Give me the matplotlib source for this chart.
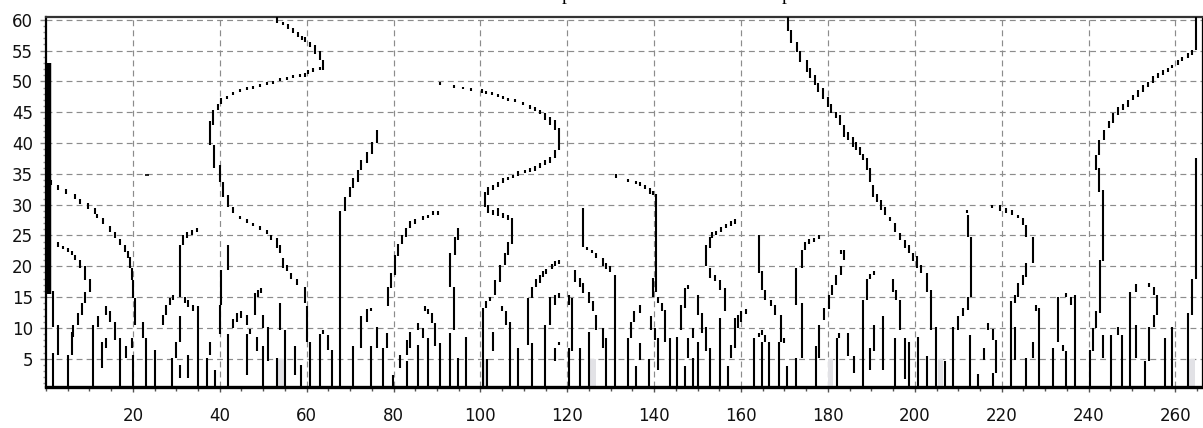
import matplotlib
matplotlib.use("Agg")
import matplotlib.pyplot as plt
from matplotlib.ticker import MultipleLocator

# ---------------- data: maxima runs (x, scale_low, scale_high) ----------------
left_edge = [(0.6, 15.5, 53.0)]

ridge_a = [(1.2, 33.2, 34.0), (2.8, 32.4, 33.2), (4.7, 31.8, 32.6), (6.7, 30.9, 31.8),
           (7.8, 30.1, 31.0), (9.7, 29.3, 30.2), (11.2, 28.5, 29.4), (11.8, 27.8, 28.5),
           (13.2, 26.8, 27.8), (14.7, 25.5, 26.5), (15.9, 24.6, 25.6), (17.0, 23.5, 24.5),
           (18.2, 22.4, 23.4), (18.9, 21.4, 22.5), (19.3, 19.7, 21.5), (19.7, 17.8, 19.7),
           (20.1, 14.8, 17.8), (20.5, 10.5, 14.8)]

ridge_b = [(2.8, 23.2, 23.9), (4.0, 22.8, 23.3), (5.1, 22.3, 22.9), (5.9, 21.8, 22.5),
           (6.7, 21.1, 21.9), (7.8, 19.7, 21.0), (9.0, 17.8, 20.0), (10.1, 15.9, 18.0),
           (9.0, 14.0, 15.9), (8.2, 12.1, 14.0), (7.4, 10.5, 12.4), (6.3, 8.6, 10.5),
           (5.9, 5.6, 9.4), (5.1, 0.5, 5.6)]

ridge_s = [(53.1, 59.4, 60.5), (54.6, 59.1, 59.7), (55.7, 58.5, 59.3), (56.9, 57.8, 58.6),
           (58.1, 57.2, 58.0), (59.0, 56.8, 57.4), (59.6, 56.4, 57.2), (60.7, 55.6, 56.4),
           (61.9, 54.5, 55.9), (63.0, 53.5, 55.0), (63.8, 51.8, 53.5), (63.0, 51.8, 52.4),
           (61.5, 51.5, 52.1), (60.4, 51.2, 51.8), (59.6, 50.7, 51.3), (58.4, 50.7, 51.2),
           (56.9, 50.5, 51.0), (55.4, 50.2, 50.7), (53.8, 50.0, 50.5), (52.3, 49.6, 50.1),
           (50.8, 49.4, 49.9), (49.2, 49.1, 49.6), (47.7, 48.7, 49.2), (46.2, 48.6, 49.1),
           (44.6, 48.3, 48.8), (43.1, 47.8, 48.3), (41.6, 47.2, 47.7), (40.4, 46.4, 47.3),
           (39.7, 45.4, 46.4), (38.5, 42.9, 45.4), (37.7, 39.7, 43.5), (38.7, 35.9, 39.7),
           (40.0, 33.7, 36.4), (40.8, 31.3, 33.7), (41.9, 29.7, 31.6), (43.1, 28.6, 29.7),
           (44.6, 27.6, 28.2), (46.2, 27.0, 27.6), (47.7, 26.5, 27.0), (49.2, 25.9, 26.5),
           (50.8, 25.3, 25.9), (51.9, 24.3, 25.1), (53.1, 22.9, 24.6), (53.8, 22.1, 23.5),
           (54.6, 19.7, 21.3), (55.4, 19.2, 20.2), (56.5, 18.0, 18.9), (57.7, 17.0, 18.0),
           (59.6, 14.0, 16.7), (60.0, 7.8, 13.5), (60.7, 0.5, 7.8)]

ridge_68 = [(67.6, 0.5, 28.9), (68.8, 28.9, 31.3), (69.9, 31.3, 32.9), (70.7, 32.7, 34.3),
            (71.9, 33.7, 35.6), (72.6, 35.6, 37.2), (73.8, 36.7, 38.6), (75.0, 38.3, 40.2),
            (76.1, 40.0, 42.1)]

ridge_c = [(90.7, 49.4, 49.9), (93.9, 49.0, 49.4), (96.0, 48.7, 49.1), (97.9, 48.5, 48.9),
           (100.3, 48.2, 48.7), (101.4, 48.0, 48.5), (102.6, 47.8, 48.3), (104.1, 47.5, 48.0),
           (105.2, 47.2, 47.7), (106.4, 46.8, 47.3), (108.0, 46.6, 47.1), (109.9, 46.1, 46.6),
           (111.4, 45.6, 46.2), (112.5, 45.2, 45.8), (113.7, 44.7, 45.3), (114.9, 43.7, 44.8),
           (116.0, 42.9, 44.3), (117.2, 42.1, 43.7), (118.0, 38.9, 42.4), (117.2, 37.5, 38.9),
           (116.0, 36.7, 37.8), (114.9, 36.4, 37.3), (113.7, 35.9, 36.7), (112.5, 35.5, 36.3),
           (111.4, 35.3, 35.9), (110.2, 35.1, 35.6), (108.7, 34.6, 35.4), (107.5, 34.3, 34.8),
           (106.4, 34.0, 34.5), (105.2, 33.5, 34.3), (104.1, 32.9, 33.7), (102.9, 32.4, 33.2),
           (101.8, 31.6, 32.9), (101.0, 29.7, 32.1), (101.8, 28.6, 29.9), (102.9, 28.4, 29.2),
           (104.1, 28.1, 29.4), (105.2, 27.8, 28.6), (106.4, 27.5, 28.3), (107.2, 23.7, 27.8),
           (106.4, 21.9, 24.0), (105.6, 20.2, 22.1), (104.5, 17.5, 20.2), (103.3, 15.4, 17.8),
           (102.2, 14.3, 15.1), (101.4, 13.2, 14.3), (100.6, 0.5, 13.2)]

ridge_124 = [(123.7, 23.2, 29.4), (124.5, 22.6, 23.2), (125.6, 22.1, 22.7), (126.7, 21.3, 22.1),
             (128.3, 20.0, 21.3), (129.0, 19.6, 20.5), (129.8, 19.0, 20.0), (130.9, 0.5, 18.6)]

ridge_140 = [(131.3, 34.3, 34.9), (133.9, 33.7, 34.2), (135.8, 33.4, 33.9), (136.7, 33.1, 33.6),
             (137.8, 32.6, 33.2), (139.0, 31.8, 32.7), (139.8, 31.5, 32.3), (140.5, 15.9, 31.8),
             (139.8, 15.1, 18.1), (140.9, 14.0, 15.1), (141.7, 12.7, 14.0), (142.5, 7.8, 12.9),
             (143.6, 0.5, 8.3)]

ridge_diag = [(170.9, 58.1, 60.5), (171.6, 56.2, 58.3), (172.8, 54.8, 56.4), (173.5, 53.2, 55.0),
              (175.1, 51.6, 53.5), (175.8, 50.5, 52.1), (177.0, 49.4, 51.0), (177.7, 48.3, 49.7),
              (178.9, 47.2, 48.9), (180.0, 45.9, 47.5), (180.8, 44.8, 46.4), (181.9, 44.0, 45.1),
              (182.7, 42.9, 44.5), (183.8, 41.0, 42.9), (184.6, 40.5, 41.8), (185.8, 39.4, 41.0),
              (186.5, 38.9, 40.2), (187.3, 38.1, 39.4), (188.1, 37.3, 38.3), (188.9, 35.6, 37.5),
              (189.6, 33.7, 35.9), (190.4, 31.3, 33.2), (191.2, 30.5, 31.8), (192.3, 29.1, 30.8),
              (193.1, 28.3, 29.7), (194.2, 27.3, 28.0), (195.4, 25.6, 27.0), (196.5, 24.3, 25.4),
              (197.7, 22.9, 24.3), (198.7, 22.1, 23.5), (199.6, 20.8, 22.1), (200.4, 19.7, 21.6),
              (201.5, 18.9, 20.2), (202.7, 15.9, 18.9), (203.8, 9.7, 16.2), (204.9, 0.5, 10.2)]

ridge_arch = [(212.0, 28.6, 29.1), (217.7, 29.4, 29.9), (219.6, 29.0, 30.0), (221.1, 28.7, 29.5),
              (222.3, 28.3, 29.1), (223.8, 27.8, 28.3), (224.9, 26.7, 27.8), (225.7, 24.8, 26.7),
              (227.2, 20.5, 24.8), (225.7, 18.3, 20.5), (224.9, 17.0, 18.6), (223.8, 15.1, 17.3),
              (223.0, 14.0, 15.4), (222.2, 0.5, 14.3),
              (212.3, 24.8, 28.3), (213.0, 15.1, 24.8), (212.3, 12.9, 15.1), (211.1, 11.9, 13.2),
              (210.0, 9.7, 11.9), (208.8, 0.5, 10.2)]

ridge_right = [(264.8, 55.1, 60.5), (263.9, 54.3, 55.1), (262.8, 53.8, 54.6), (261.6, 53.3, 54.0),
               (260.5, 52.7, 53.5), (259.3, 52.1, 52.7), (258.2, 51.6, 52.2), (257.1, 51.0, 51.8),
               (255.9, 50.5, 51.3), (254.8, 49.7, 50.8), (253.6, 49.1, 49.9), (252.5, 48.3, 49.4),
               (251.3, 47.5, 48.6), (250.2, 47.0, 47.8), (249.0, 45.9, 47.0), (247.9, 45.4, 46.4),
               (246.7, 44.5, 45.9), (245.6, 43.2, 44.8), (244.8, 42.4, 43.5), (243.6, 40.5, 42.1),
               (242.5, 38.1, 40.5), (241.7, 35.6, 38.1), (242.5, 32.1, 35.9), (243.4, 20.8, 32.4),
               (242.6, 12.4, 21.0), (241.8, 10.0, 12.7), (241.1, 6.2, 10.0), (240.3, 0.5, 6.5)]

ridge_edge = [(264.8, 18.0, 37.5), (263.9, 12.1, 18.0), (262.8, 0.5, 12.4)]

bottom_0_60 = [(1.7, 10.2, 16.0), (1.7, 0.5, 5.9), (2.8, 5.6, 10.5), (10.9, 0.5, 10.5),
               (12.0, 10.2, 11.9), (13.8, 12.1, 13.5), (14.7, 11.0, 12.7), (15.9, 8.0, 11.0),
               (12.8, 3.5, 7.8), (13.8, 6.7, 8.3), (17.0, 0.5, 8.3), (18.5, 5.1, 7.0),
               (19.7, 6.7, 8.3), (20.1, 0.5, 5.6), (22.4, 8.3, 11.0), (23.1, 0.5, 8.3),
               (25.0, 0.5, 6.4), (27.0, 10.5, 12.1), (27.7, 12.1, 13.8), (28.5, 13.8, 14.8),
               (29.3, 14.5, 15.3), (30.8, 15.1, 23.5), (31.6, 23.5, 25.1), (32.4, 24.6, 25.6),
               (33.5, 25.0, 25.9), (34.7, 25.6, 26.2), (31.9, 14.0, 15.1), (32.7, 13.4, 14.6),
               (33.8, 12.7, 13.8), (35.0, 0.5, 13.5), (30.8, 7.8, 11.9), (30.0, 5.1, 7.8),
               (28.9, 0.5, 5.1), (30.8, 1.9, 4.0), (32.7, 1.9, 5.6), (37.0, 0.5, 5.1),
               (37.7, 5.6, 7.8), (38.9, 0.5, 3.2), (40.0, 9.0, 13.8), (40.4, 13.8, 19.4),
               (41.9, 19.4, 23.5), (41.9, 0.5, 9.0), (43.1, 10.0, 11.5), (43.9, 11.0, 12.4),
               (45.0, 11.6, 12.7), (46.2, 10.5, 12.1), (46.2, 2.4, 9.0), (47.0, 9.0, 9.8),
               (48.1, 12.1, 15.6), (48.9, 15.1, 16.2), (49.6, 15.6, 16.5), (48.5, 6.2, 8.6),
               (50.0, 10.0, 12.1), (50.0, 0.5, 7.0), (51.1, 4.6, 10.2), (53.1, 0.5, 5.1),
               (53.8, 9.7, 14.0), (55.0, 0.5, 9.7), (57.3, 2.4, 7.0)]

bottom_60_130 = [(58.8, 0.5, 4.0), (63.0, 0.5, 9.0), (63.8, 9.0, 9.6), (65.0, 6.5, 8.9),
                 (65.8, 0.5, 6.5), (70.7, 0.5, 7.0), (72.6, 6.7, 11.9), (73.8, 11.0, 13.0),
                 (74.9, 12.7, 13.3), (74.9, 0.5, 7.0), (76.1, 6.7, 10.2), (77.6, 0.5, 6.7),
                 (78.5, 6.7, 9.2), (78.8, 13.5, 16.7), (79.5, 16.5, 18.9), (79.8, 0.5, 2.4),
                 (80.3, 18.6, 21.9), (81.0, 21.6, 23.7), (81.5, 3.5, 5.6), (81.9, 23.7, 25.1),
                 (82.8, 24.8, 26.2), (83.0, 5.6, 8.0), (83.0, 0.5, 4.6), (83.8, 26.2, 27.3),
                 (84.9, 26.8, 27.6), (86.8, 27.5, 28.1), (88.0, 27.8, 28.4), (89.2, 28.3, 28.9),
                 (90.3, 28.4, 29.0), (83.8, 6.7, 9.4), (85.7, 9.7, 10.8), (85.7, 0.5, 7.3),
                 (86.8, 8.3, 10.0), (88.0, 0.5, 8.3), (87.3, 12.7, 13.5), (88.0, 12.3, 13.0),
                 (88.8, 10.8, 12.4), (89.5, 7.0, 10.8), (90.7, 0.5, 7.5), (94.9, 24.3, 26.2),
                 (94.1, 21.9, 24.8), (92.9, 16.7, 22.1), (93.9, 9.7, 16.7), (92.9, 0.5, 9.2),
                 (94.9, 0.5, 5.1), (96.8, 0.5, 8.6), (102.9, 6.2, 9.4), (101.6, 0.5, 5.0),
                 (104.9, 12.7, 13.5), (106.0, 10.5, 12.7), (106.8, 0.5, 11.0), (108.7, 0.5, 6.7),
                 (111.0, 7.3, 14.8), (111.8, 14.8, 16.7), (111.8, 0.5, 7.5), (112.9, 16.7, 18.0),
                 (113.7, 17.3, 18.6), (114.5, 18.2, 19.2), (115.2, 18.7, 19.6), (116.4, 19.5, 20.4),
                 (117.2, 20.0, 20.8), (118.0, 20.3, 21.1), (121.8, 17.5, 19.4), (122.9, 16.7, 18.1),
                 (123.7, 15.6, 17.3), (124.9, 14.0, 15.9), (126.0, 12.7, 14.3), (126.7, 9.7, 12.1),
                 (114.9, 0.5, 10.5), (116.0, 10.5, 15.1), (117.2, 13.8, 15.4), (118.0, 14.8, 15.6),
                 (117.2, 4.6, 6.7), (118.0, 7.2, 7.8), (120.3, 13.8, 15.4), (121.0, 6.2, 14.8),
                 (120.3, 0.5, 6.7), (122.9, 0.5, 6.7), (124.9, 0.5, 9.4)]

bottom_130_200 = [(128.3, 6.7, 10.0), (129.0, 0.5, 8.3), (133.9, 0.5, 8.3), (134.7, 8.3, 11.0),
                  (135.4, 11.0, 12.7), (136.7, 12.4, 13.8), (135.8, 0.5, 3.8), (136.7, 4.8, 7.5),
                  (138.9, 0.5, 5.0), (139.3, 9.7, 11.9), (140.1, 8.1, 10.0), (140.9, 3.2, 8.3),
                  (145.3, 0.5, 8.6), (146.1, 9.7, 13.8), (147.2, 13.2, 16.5), (147.9, 16.3, 16.9),
                  (147.2, 0.5, 3.8), (147.9, 5.1, 8.3), (149.0, 8.3, 10.0), (149.0, 0.5, 5.1),
                  (150.1, 12.1, 15.4), (150.9, 9.2, 12.4), (150.1, 0.5, 7.8), (152.0, 6.2, 10.2),
                  (152.8, 0.5, 6.7), (152.0, 20.0, 23.5), (152.8, 22.9, 24.8), (153.3, 24.6, 25.5),
                  (154.3, 25.0, 25.8), (155.4, 25.6, 26.4), (156.6, 26.2, 26.9), (157.7, 26.6, 27.3),
                  (158.5, 26.9, 27.6), (152.8, 18.1, 19.7), (154.0, 17.6, 18.6), (155.1, 16.2, 17.8),
                  (156.3, 12.7, 16.5), (155.1, 0.5, 11.6), (156.9, 0.5, 3.8), (158.5, 6.7, 11.6),
                  (159.3, 10.0, 12.1), (160.0, 11.0, 12.7), (161.2, 12.3, 13.0), (157.7, 5.1, 7.3),
                  (163.0, 0.5, 8.3), (164.2, 18.9, 25.1), (164.9, 16.2, 19.2), (165.6, 14.6, 16.2),
                  (166.8, 13.6, 14.6), (167.9, 12.1, 13.8), (169.1, 7.8, 12.1), (169.8, 7.6, 8.3),
                  (164.2, 8.5, 9.2), (164.9, 8.9, 9.7), (165.6, 7.8, 8.9), (164.9, 0.5, 7.8),
                  (166.4, 0.5, 7.8), (168.7, 0.5, 7.8), (170.6, 0.5, 3.8), (172.6, 0.5, 5.1),
                  (172.6, 13.8, 19.7), (174.1, 5.1, 14.0), (174.1, 19.7, 22.7), (174.8, 22.7, 24.0),
                  (175.6, 23.6, 24.4), (176.8, 24.0, 24.6), (177.9, 24.5, 25.1), (179.0, 11.3, 13.2),
                  (180.2, 13.0, 15.4), (181.0, 15.4, 17.0), (181.8, 17.0, 18.6), (182.9, 18.6, 20.0),
                  (183.7, 21.1, 22.7), (182.9, 22.0, 22.7), (177.2, 0.5, 7.0), (177.9, 5.1, 10.5),
                  (182.0, 0.5, 8.3), (182.5, 8.3, 9.2), (184.6, 5.4, 9.2), (186.1, 2.7, 5.4),
                  (188.1, 0.5, 14.6), (188.9, 14.6, 18.0), (189.6, 18.0, 18.8), (190.7, 18.6, 19.2),
                  (189.6, 3.2, 6.7), (190.7, 6.2, 10.5), (192.7, 3.2, 11.9), (195.4, 0.5, 8.3),
                  (195.0, 15.9, 18.0), (195.7, 14.6, 16.2)]

bottom_200_266 = [(196.5, 9.7, 14.6), (197.7, 1.7, 8.3), (198.7, 0.5, 7.8), (200.7, 0.5, 8.6),
                  (202.7, 0.5, 5.4), (206.9, 0.5, 4.6), (212.8, 0.5, 8.9), (214.6, 0.5, 2.5),
                  (215.9, 4.8, 6.7), (216.8, 9.7, 10.8), (218.0, 8.0, 9.9), (218.8, 2.7, 8.0),
                  (218.0, 0.5, 2.7), (223.0, 4.8, 10.2), (225.7, 0.5, 5.1), (227.2, 5.1, 7.8),
                  (228.0, 12.7, 13.8), (228.7, 0.5, 13.2), (231.8, 0.5, 6.7), (233.0, 7.8, 15.1),
                  (234.1, 6.2, 7.3), (234.9, 15.1, 15.6), (236.0, 13.8, 15.1), (234.9, 0.5, 6.2),
                  (236.8, 0.5, 15.4), (243.3, 5.1, 8.9), (245.2, 0.5, 8.9), (246.8, 8.9, 10.2),
                  (247.6, 0.5, 8.9), (249.6, 5.4, 15.9), (251.0, 15.9, 17.2), (251.0, 5.1, 10.5),
                  (249.6, 0.5, 5.4), (253.8, 16.7, 17.3), (255.0, 15.4, 16.7), (255.8, 12.1, 15.4),
                  (255.0, 10.2, 12.1), (253.8, 4.6, 10.2), (252.9, 0.5, 4.6), (257.7, 0.5, 8.3),
                  (259.2, 0.5, 10.2)]

# isolated short horizontal mark
dash_marks = [(23.2, 22.8, 23.8, 34.8)]

# light grey cells (x_left, x_right, scale_low, scale_high)
grey_cells = [(53.5, 54.7, 0.5, 5.0), (100.3, 101.4, 0.5, 5.0), (125.3, 126.7, 0.5, 5.0),
              (180.0, 181.1, 0.5, 5.0), (205.3, 206.5, 0.5, 5.0), (263.0, 264.6, 0.5, 5.0)]

x_major = [20, 40, 60, 80, 100, 120, 140, 160, 180, 200, 220, 240, 260]
y_major = [5, 10, 15, 20, 25, 30, 35, 40, 45, 50, 55, 60]

# ---------------- figure ----------------
W, H = 1203, 428
fig = plt.figure(figsize=(W / 100, H / 100), dpi=100)
ax = fig.add_axes([46 / W, (H - 386.5) / H, (1201.5 - 46) / W, (386.5 - 16.7) / H])
ax.set_xlim(0, 266)
ax.set_ylim(0.5, 60.5)

for (x0, x1, s0, s1) in grey_cells:
    ax.fill_between([x0, x1], s0, s1, color="#e2e2e6", lw=0, zorder=1)

ax.set_axisbelow(True)
ax.grid(True, which="major", color="#8c8c8c", linestyle=(0, (5, 3.5)), linewidth=0.85)

all_runs = [left_edge, ridge_a, ridge_b, ridge_s, ridge_68, ridge_c, ridge_124, ridge_140,
            ridge_diag, ridge_arch, ridge_right, ridge_edge,
            bottom_0_60, bottom_60_130, bottom_130_200, bottom_200_266]
for runs in all_runs:
    xs = [r[0] for r in runs]
    lo = [r[1] for r in runs]
    hi = [r[2] for r in runs]
    lw = 3.2 if runs is left_edge else 1.5
    ax.vlines(xs, lo, hi, colors="black", linewidth=lw, zorder=3, capstyle="butt")

for (x, x0, x1, s) in dash_marks:
    ax.hlines(s, x0, x1, colors="black", linewidth=1.2, zorder=3)

# ticks
ax.set_xticks(x_major)
ax.set_xticklabels([str(v) for v in x_major])
ax.xaxis.set_minor_locator(MultipleLocator(5))
ax.set_yticks(y_major)
ax.set_yticklabels([str(v) for v in y_major])
ax.yaxis.set_minor_locator(MultipleLocator(1))
ax.tick_params(axis="x", which="major", length=3.5, width=1, color="#555555", pad=11,
               labelsize=12, labelcolor="#111111")
ax.tick_params(axis="x", which="minor", length=3.0, width=1, color="#555555")
ax.tick_params(axis="y", which="major", length=4.5, width=1, color="#888888", pad=5,
               labelsize=12, labelcolor="#111111")
ax.tick_params(axis="y", which="minor", length=2.0, width=1, color="#999999")
for lab in ax.get_xticklabels() + ax.get_yticklabels():
    lab.set_family("DejaVu Sans")

ax.spines["top"].set_linewidth(1.6)
ax.spines["top"].set_color("#333333")
ax.spines["bottom"].set_linewidth(2.4)
ax.spines["bottom"].set_color("black")
ax.spines["left"].set_linewidth(1.6)
ax.spines["left"].set_color("black")
ax.spines["right"].set_linewidth(0.9)
ax.spines["right"].set_color("black")

# cropped title remnants
fig.text(566 / W, 1.0, "p", family="Liberation Serif", fontsize=14, ha="center", va="baseline")
fig.text(786 / W, 1.0, "p", family="Liberation Serif", fontsize=14, ha="center", va="baseline")

fig.savefig("out.png", dpi=100)
